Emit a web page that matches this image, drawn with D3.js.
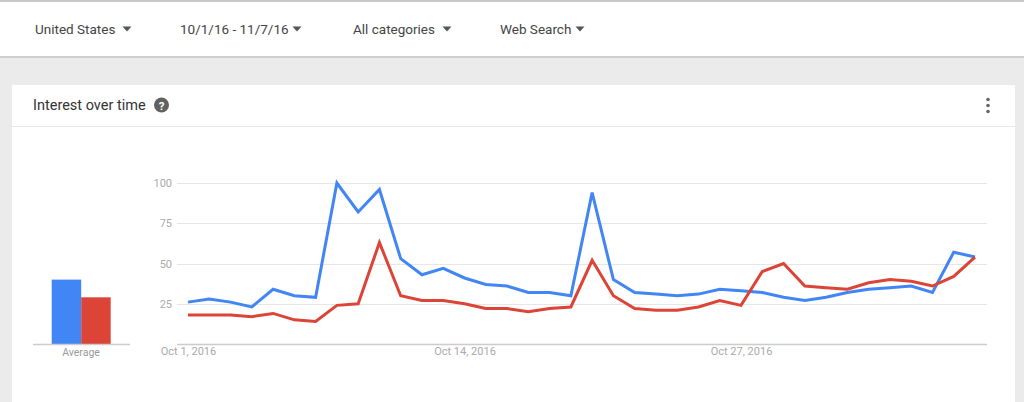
<!DOCTYPE html>
<html>
<head>
<meta charset="utf-8">
<script src="https://cdn.jsdelivr.net/npm/d3@7"></script>
<style>
  html, body { margin: 0; padding: 0; background: #ebebeb; }
  svg { display: block; }
  text { font-family: Roboto, "Noto Sans", Arial, sans-serif; }
</style>
</head>
<body>
<svg id="chart" width="1024" height="402"></svg>
<script>
// ---- data ----
const startDate = new Date(2016, 9, 1);
const blueValues = [26, 28, 26, 23, 34, 30, 29, 100, 82, 96, 53, 43, 47, 41, 37, 36, 32, 32, 30, 94,
                    40, 32, 31, 30, 31, 34, 33, 32, 29, 27, 29, 32, 34, 35, 36, 32, 57, 54];
const redValues  = [18, 18, 18, 17, 19, 15, 14, 24, 25, 63, 30, 27, 27, 25, 22, 22, 20, 22, 23, 52,
                    30, 22, 21, 21, 23, 27, 24, 45, 50, 36, 35, 34, 38, 40, 39, 36, 42, 54];
const averageValues = [40, 29];
const seriesColors = ["#4285f4", "#db4437"];
const yTicks = [25, 50, 75, 100];
const xTickDates = [new Date(2016, 9, 1), new Date(2016, 9, 14), new Date(2016, 9, 27)];
const filterLabels = ["United States", "10/1/16 - 11/7/16", "All categories", "Web Search"];

const dates = blueValues.map((_, i) => d3.timeDay.offset(startDate, i));

const svg = d3.select("#chart");

// ---- top filter bar ----
svg.append("rect").attr("x", 0).attr("y", 0).attr("width", 1024).attr("height", 58).attr("fill", "#ffffff");
svg.append("rect").attr("x", 0).attr("y", 0).attr("width", 1024).attr("height", 2).attr("fill", "#c8c8c8");
svg.append("rect").attr("x", 0).attr("y", 56).attr("width", 1024).attr("height", 2).attr("fill", "#cfcfcf");

const filterX = [35, 180, 353, 500];
const arrowX = [127, 297, 447, 580];
filterLabels.forEach((t, i) => {
  svg.append("text").attr("x", filterX[i]).attr("y", 34).attr("font-size", 13.5)
     .attr("fill", "#444").text(t);
  const ax = arrowX[i];
  svg.append("path").attr("d", `M${ax-4.5},26.5 L${ax+4.5},26.5 L${ax},31.5 Z`).attr("fill", "#555");
});

// ---- card ----
svg.append("rect").attr("x", 12).attr("y", 85).attr("width", 1003).attr("height", 330).attr("fill", "#ffffff");
svg.append("line").attr("x1", 12).attr("x2", 1015).attr("y1", 126.5).attr("y2", 126.5)
   .attr("stroke", "#e8e8e8").attr("stroke-width", 1);
svg.append("text").attr("x", 33).attr("y", 110).attr("font-size", 14.5).attr("fill", "#333")
   .text("Interest over time");
svg.append("circle").attr("cx", 161.5).attr("cy", 105).attr("r", 7.5).attr("fill", "#616161");
svg.append("text").attr("x", 161.5).attr("y", 109.5).attr("text-anchor", "middle")
   .attr("font-size", 11.5).attr("font-weight", "bold").attr("fill", "#fff").text("?");
[99.5, 105.5, 111.5].forEach(cy => {
  svg.append("circle").attr("cx", 988).attr("cy", cy).attr("r", 1.8).attr("fill", "#666");
});

// ---- scales ----
const x = d3.scaleTime().domain([dates[0], dates[dates.length - 1]]).range([188, 975]);
const y = d3.scaleLinear().domain([0, 100]).range([344, 183]);

// gridlines
svg.append("g").selectAll("line").data(yTicks).join("line")
  .attr("x1", 177).attr("x2", 987)
  .attr("y1", d => Math.round(y(d)) + 0.5).attr("y2", d => Math.round(y(d)) + 0.5)
  .attr("stroke", "#e6e6e6").attr("stroke-width", 1.2);

// y labels
const yAxis = d3.axisLeft(y).tickValues(yTicks).tickSize(0).tickPadding(0);
const gy = svg.append("g").attr("transform", "translate(172,0)").call(yAxis);
gy.select(".domain").remove();
gy.selectAll("text").attr("font-size", 11).attr("fill", "#aaa")
  .style("font-family", "Roboto, 'Noto Sans', Arial, sans-serif");

// baseline
svg.append("line").attr("x1", 177).attr("x2", 987).attr("y1", 344.5).attr("y2", 344.5)
   .attr("stroke", "#cccccc").attr("stroke-width", 1.3);

// x labels
const xAxis = d3.axisBottom(x).tickValues(xTickDates).tickSize(0).tickPadding(0)
  .tickFormat(d3.timeFormat("%b %-d, %Y"));
const gx = svg.append("g").attr("transform", "translate(0,347)").call(xAxis);
gx.select(".domain").remove();
gx.selectAll("text").attr("font-size", 11).attr("fill", "#aaa")
  .style("font-family", "Roboto, 'Noto Sans', Arial, sans-serif");

// lines
const line = d3.line().x((d, i) => x(dates[i])).y(d => y(d));
[blueValues, redValues].forEach((vals, k) => {
  svg.append("path").datum(vals).attr("d", line).attr("fill", "none")
     .attr("stroke", seriesColors[k]).attr("stroke-width", 3)
     .attr("stroke-linejoin", "miter").attr("stroke-miterlimit", 4);
});

// ---- average bars ----
const xb = d3.scaleBand().domain(["a", "b"]).range([51.7, 110.7]).padding(0);
const gb = svg.append("g");
gb.selectAll("rect").data(averageValues).join("rect")
  .attr("x", (d, i) => xb(i === 0 ? "a" : "b"))
  .attr("width", xb.bandwidth())
  .attr("y", d => y(d)).attr("height", d => y(0) - y(d))
  .attr("fill", (d, i) => seriesColors[i]);
svg.append("line").attr("x1", 33).attr("x2", 130).attr("y1", 344.5).attr("y2", 344.5)
   .attr("stroke", "#cccccc").attr("stroke-width", 1.3);
svg.append("text").attr("x", 81).attr("y", 356).attr("text-anchor", "middle")
   .attr("font-size", 10.5).attr("fill", "#999").text("Average");
</script>
</body>
</html>
